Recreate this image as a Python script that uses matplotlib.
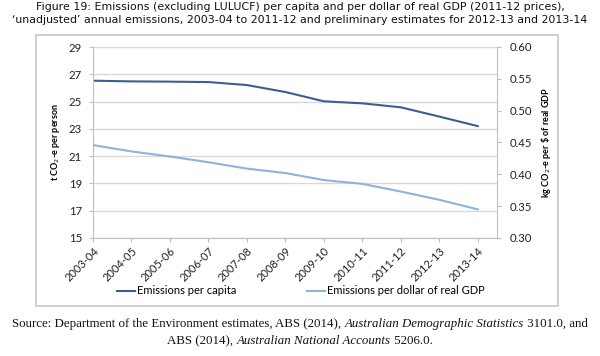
import matplotlib
matplotlib.use("Agg")
import matplotlib.pyplot as plt
from matplotlib.patches import Rectangle
from matplotlib.lines import Line2D

years = ["2003-04", "2004-05", "2005-06", "2006-07", "2007-08", "2008-09",
         "2009-10", "2010-11", "2011-12", "2012-13", "2013-14"]
per_capita = [26.53, 26.48, 26.46, 26.43, 26.21, 25.70, 25.02, 24.87, 24.58, 23.90, 23.20]
per_gdp = [0.446, 0.436, 0.428, 0.419, 0.409, 0.402, 0.391, 0.385, 0.373, 0.360, 0.345]
left_ticks = [15, 17, 19, 21, 23, 25, 27, 29]
right_ticks = [0.30, 0.35, 0.40, 0.45, 0.50, 0.55, 0.60]

dark = "#3a5f93"
light = "#8fb2dc"
grid_c = "#d9d9d9"
axis_c = "#bfbfbf"
tick_font = "Lato"

fig = plt.figure(figsize=(6.0, 3.56), dpi=100)
W, H = 600, 356

def fx(px):
    return px / W

def fy(py):
    return 1 - py / H

# chart box
fig.patches.append(Rectangle((fx(36), fy(306)), fx(558) - fx(36), fy(35) - fy(306),
                             transform=fig.transFigure, fill=False,
                             edgecolor="#c8c8c8", linewidth=1.2))

ax = fig.add_axes([fx(93), fy(238), fx(497) - fx(93), fy(47) - fy(238)])
ax2 = ax.twinx()

x = list(range(len(years)))
ax.plot(x, per_capita, color=dark, linewidth=1.5)
ax2.plot(x, per_gdp, color=light, linewidth=1.5)

ax.set_xlim(0, 10.5)
ax.set_ylim(15, 29)
ax2.set_ylim(0.30, 0.60)
ax.set_yticks(left_ticks)
ax.set_yticklabels([str(t) for t in left_ticks], fontsize=8.2, family=tick_font, color="#222222")
ax2.set_yticks(right_ticks)
ax2.set_yticklabels([f"{t:.2f}" for t in right_ticks], fontsize=8.2, family=tick_font, color="#222222")
ax.set_xticks(x)
ax.set_xticklabels(years, rotation=45, ha="right", rotation_mode="anchor",
                   fontsize=8.0, family=tick_font, color="#222222")
ax.grid(axis="y", color=grid_c, linewidth=1.0)
ax.set_axisbelow(True)

for a in (ax, ax2):
    a.spines["top"].set_visible(False)
    a.tick_params(length=3, color=axis_c, width=0.8, pad=2)
ax.spines["right"].set_visible(False)
ax.spines["left"].set_color(axis_c)
ax.spines["bottom"].set_color(axis_c)
ax2.spines["left"].set_visible(False)
ax2.spines["bottom"].set_visible(False)
ax2.spines["right"].set_color(axis_c)
ax.tick_params(axis="y", pad=5)
ax2.tick_params(axis="y", pad=6)

ax.set_ylabel("t CO$_2$-e per person", fontsize=6.5, family=tick_font, fontweight="bold", labelpad=5)
ax2.set_ylabel("kg CO$_2$-e per \\$ of real GDP", fontsize=6.5, family=tick_font, fontweight="bold", labelpad=5)

# legend
handles = [Line2D([0], [0], color=dark, lw=1.5), Line2D([0], [0], color=light, lw=1.5)]
fig.legend(handles, ["Emissions per capita", "Emissions per dollar of real GDP"],
           loc="center", bbox_to_anchor=(fx(301), fy(291)), ncol=2, frameon=False,
           prop={"family": tick_font, "size": 8.0}, handlelength=1.6, handletextpad=0.2,
           columnspacing=6.3)

# title
title_font = "DejaVu Sans"
fig.text(0.5, fy(7), "Figure 19: Emissions (excluding LULUCF) per capita and per dollar of real GDP (2011-12 prices),",
         ha="center", va="center", fontsize=7.9, family=title_font, color="#111111")
fig.text(0.5, fy(20), "\u2018unadjusted\u2019 annual emissions, 2003-04 to 2011-12 and preliminary estimates for 2012-13 and 2013-14",
         ha="center", va="center", fontsize=7.9, family=title_font, color="#111111")

# source with mixed italics
fig.canvas.draw()
renderer = fig.canvas.get_renderer()

def mixed_line(parts, yc, size=9.3):
    texts = []
    for s, it in parts:
        t = fig.text(0, fy(yc), s, ha="left", va="center", fontsize=size,
                     family="Liberation Serif", style="italic" if it else "normal", color="#111111")
        texts.append(t)
    widths = [t.get_window_extent(renderer).width for t in texts]
    total = sum(widths)
    cur = (W - total) / 2
    for t, w in zip(texts, widths):
        t.set_x(cur / W)
        cur += w

mixed_line([("Source: Department of the Environment estimates, ABS (2014), ", False),
            ("Australian Demographic Statistics", True),
            (" 3101.0, and", False)], 324)
mixed_line([("ABS (2014), ", False),
            ("Australian National Accounts", True),
            (" 5206.0.", False)], 341)

fig.savefig("out.png", dpi=100)
